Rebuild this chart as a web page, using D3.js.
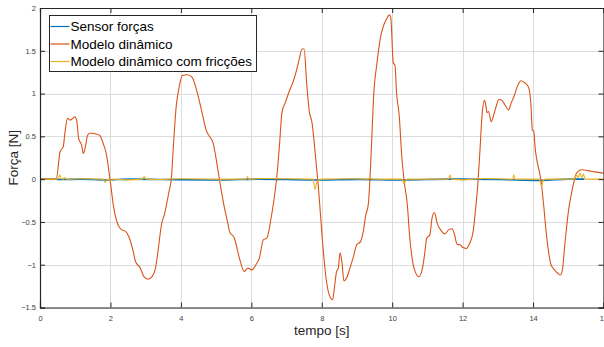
<!DOCTYPE html>
<html>
<head>
<meta charset="utf-8">
<script src="https://cdn.jsdelivr.net/npm/d3@7"></script>
<style>
  body { margin: 0; background: #fff; }
  svg { display: block; font-family: "Liberation Sans", Arial, sans-serif; }
</style>
</head>
<body>
<div id="vis"></div>
<script>
// series values
const seriesNames = ["Sensor forças", "Modelo dinâmico", "Modelo dinâmico com fricções"]
const seriesColors = ["#0072BD", "#D95319", "#EDB120"]

const sensorT = [0, 0.46, 0.55, 1.2, 1.85, 2.6, 3.4, 5.1, 6.2, 7.8, 9.0, 10.33, 11.6, 13.0, 14.24, 15.0, 15.45]
const sensorF = [0, 0, -0.005, 0, -0.01, 0, -0.004, -0.01, 0, -0.01, -0.003, -0.01, 0, -0.004, -0.015, 0, 0]

const modeloT = [0, 0.46, 0.57, 0.66, 0.71, 0.78, 0.85, 0.93, 0.99, 1.04, 1.10, 1.18, 1.23, 1.28, 1.35, 1.42, 1.56, 1.70, 1.80, 1.89,
  1.96, 2.01, 2.08, 2.17, 2.31, 2.43, 2.52, 2.65, 2.71, 2.85, 2.95, 3.07, 3.18, 3.28, 3.36, 3.45, 3.54, 3.66, 3.73, 3.80,
  3.87, 3.94, 4.04, 4.18, 4.32, 4.46, 4.60, 4.72, 4.81, 4.91, 5.00, 5.09, 5.22, 5.34, 5.38, 5.52, 5.66, 5.80, 5.90, 6.02,
  6.13, 6.23, 6.34, 6.44, 6.56, 6.65, 6.72, 6.80, 6.87, 6.97, 7.08, 7.18, 7.27, 7.36, 7.44, 7.50, 7.57, 7.65, 7.72, 7.82,
  7.90, 8.03, 8.12, 8.21, 8.31, 8.37, 8.42, 8.47, 8.52, 8.57, 8.63, 8.71, 8.80, 8.89, 8.99, 9.10, 9.18, 9.25, 9.32, 9.37,
  9.42, 9.48, 9.56, 9.66, 9.75, 9.84, 9.92, 9.96, 10.03, 10.08, 10.12, 10.20, 10.27, 10.33, 10.43, 10.50, 10.58, 10.62, 10.76, 10.85,
  10.92, 10.98, 11.07, 11.13, 11.20, 11.28, 11.37, 11.49, 11.61, 11.70, 11.77, 11.84, 11.94, 12.01, 12.11, 12.20, 12.30, 12.36, 12.43, 12.49,
  12.55, 12.62, 12.66, 12.69, 12.74, 12.81, 12.89, 12.96, 13.03, 13.12, 13.21, 13.31, 13.37, 13.47, 13.56, 13.66, 13.75, 13.85, 13.90, 13.94,
  13.98, 14.02, 14.06, 14.11, 14.18, 14.23, 14.30, 14.37, 14.44, 14.51, 14.61, 14.70, 14.78, 14.84, 14.90, 14.96, 15.03, 15.07, 15.15, 15.21,
  15.28, 15.37, 15.55, 15.74, 16.0]
const modeloF = [0, 0, 0.32, 0.38, 0.55, 0.71, 0.69, 0.71, 0.73, 0.69, 0.47, 0.40, 0.30, 0.36, 0.51, 0.54, 0.53, 0.51, 0.41, 0.28,
  0.085, -0.07, -0.30, -0.48, -0.59, -0.61, -0.67, -0.85, -0.96, -1.04, -1.14, -1.17, -1.14, -1.04, -0.81, -0.53, -0.40, -0.15, 0.01, 0.47,
  0.86, 1.05, 1.21, 1.22, 1.19, 1.02, 0.78, 0.57, 0.50, 0.43, 0.24, 0.01, -0.30, -0.53, -0.61, -0.69, -0.92, -1.08, -1.04, -1.06,
  -1.00, -0.92, -0.71, -0.69, -0.46, -0.22, 0.01, 0.40, 0.78, 0.90, 1.03, 1.13, 1.25, 1.40, 1.52, 1.52, 1.13, 0.78, 0.67, 0.28,
  -0.07, -0.77, -1.15, -1.35, -1.41, -1.23, -1.08, -1.04, -0.86, -0.96, -1.19, -1.15, -1.04, -0.92, -0.77, -0.73, -0.61, -0.42, -0.30, 0.01,
  0.47, 1.02, 1.33, 1.64, 1.79, 1.87, 1.92, 1.89, 1.36, 1.33, 1.03, 0.74, 0.28, 0.01, -0.30, -0.69, -0.96, -1.04, -1.14, -1.06,
  -0.88, -0.69, -0.65, -0.46, -0.39, -0.52, -0.59, -0.64, -0.59, -0.58, -0.65, -0.76, -0.77, -0.80, -0.81, -0.75, -0.61, -0.38, -0.07, 0.32,
  0.74, 0.92, 0.86, 0.78, 0.79, 0.67, 0.76, 0.86, 0.93, 0.92, 0.86, 0.81, 0.88, 0.98, 1.09, 1.15, 1.13, 1.09, 1.03, 0.86,
  0.57, 0.56, 0.36, 0.22, 0.085, -0.03, -0.30, -0.61, -0.85, -1.00, -1.06, -1.10, -1.12, -1.04, -0.77, -0.53, -0.30, -0.21, -0.05, 0.05,
  0.09, 0.11, 0.10, 0.085, 0.07]

const friccaoT = [0, 0.46, 0.52, 0.56, 0.60, 0.66, 0.70, 0.74, 1.2, 1.8, 1.85, 1.90, 1.95, 2.0, 2.05, 2.5, 2.9, 2.96, 3.02, 3.3,
  4.0, 5.05, 5.11, 5.15, 5.85, 5.89, 5.93, 6.4, 7.75, 7.81, 7.86, 7.92, 8.0, 8.8, 9.33, 9.37, 9.41, 10.28, 10.33, 10.38,
  10.42, 11.6, 11.64, 11.68, 12.0, 12.6, 13.42, 13.45, 13.49, 14.18, 14.24, 14.30, 14.36, 15.18, 15.23, 15.28, 15.33, 15.38, 15.43, 15.48,
  16.0]
const friccaoF = [0, 0, 0.01, 0.05, 0.01, 0, 0.02, 0, 0.005, 0, -0.04, -0.01, 0, -0.02, 0, -0.008, 0, 0.03, 0, -0.005,
  0.005, 0, -0.02, 0, 0, 0.03, 0, 0.008, 0, -0.12, -0.03, -0.01, 0, 0.005, 0, 0.02, 0, 0, -0.05, -0.02,
  0, 0, 0.05, 0, -0.008, 0.008, 0, 0.05, 0, 0, -0.08, -0.01, 0, 0, 0.05, 0.02, 0.07, 0.02, 0.06, 0,
  0]

const xTicks = [0, 2, 4, 6, 8, 10, 12, 14, 16]
const yTicks = [-1.5, -1, -0.5, 0, 0.5, 1, 1.5, 2]

const W = 604, H = 347
const margin = { left: 40, top: 8, right: 0.5, bottom: 39.5 }
const width = W - margin.left - margin.right
const height = H - margin.top - margin.bottom

const svg = d3.select("#vis").append("svg")
  .attr("width", W)
  .attr("height", H)

const g = svg.append("g")
  .attr("transform", "translate(" + margin.left + "," + margin.top + ")")

const x = d3.scaleLinear().domain([0, 16]).range([0, width])
const y = d3.scaleLinear().domain([-1.5, 2]).range([height, 0])

// grid
g.append("g").selectAll("line").data(xTicks).join("line")
  .attr("x1", d => Math.round(x(d)) + 0.5).attr("x2", d => Math.round(x(d)) + 0.5)
  .attr("y1", 0).attr("y2", height)
  .attr("stroke", "#dcdcdc").attr("stroke-width", 1)
g.append("g").selectAll("line").data(yTicks).join("line")
  .attr("y1", d => Math.round(y(d)) + 0.5).attr("y2", d => Math.round(y(d)) + 0.5)
  .attr("x1", 0).attr("x2", width)
  .attr("stroke", "#dcdcdc").attr("stroke-width", 1)

// lines
const series = [
  sensorT.map((t, i) => ({ t: t, f: sensorF[i] })),
  modeloT.map((t, i) => ({ t: t, f: modeloF[i] })),
  friccaoT.map((t, i) => ({ t: t, f: friccaoF[i] }))
]

const line = d3.line()
  .x(d => x(d.t))
  .y(d => y(d.f))
  .curve(d3.curveMonotoneX)

g.append("g").selectAll("path").data(series).join("path")
  .attr("d", line)
  .attr("fill", "none")
  .attr("stroke", (d, i) => seriesColors[i])
  .attr("stroke-width", (d, i) => i == 0 ? 1.6 : 1.1)

// axes, ticks inward on all four sides
const tickLen = 5
const xAxisB = d3.axisBottom(x).tickValues(xTicks).tickSize(-tickLen).tickPadding(8).tickFormat(d3.format("d"))
const xAxisT = d3.axisTop(x).tickValues(xTicks).tickSize(-tickLen).tickFormat("")
const yAxisL = d3.axisLeft(y).tickValues(yTicks).tickSize(-tickLen).tickPadding(4).tickFormat(d => d3.format("")(d))
const yAxisR = d3.axisRight(y).tickValues(yTicks).tickSize(-tickLen).tickFormat("")

function styleAxis(a) {
  a.select(".domain").attr("stroke", "#262626").attr("stroke-width", 1.2)
  a.selectAll(".tick line").attr("stroke", "#262626")
  a.selectAll("text").attr("fill", "#404040").style("font-size", "7.5px")
    .style("font-family", "'Liberation Sans', Arial, sans-serif")
}

styleAxis(g.append("g").attr("transform", "translate(0," + height + ")").call(xAxisB))
styleAxis(g.append("g").call(xAxisT))
styleAxis(g.append("g").call(yAxisL))
styleAxis(g.append("g").attr("transform", "translate(" + width + ",0)").call(yAxisR))

// axis titles
g.append("text")
  .attr("x", width / 2)
  .attr("y", height + 27)
  .attr("text-anchor", "middle")
  .attr("fill", "#262626")
  .style("font-size", "13.5px")
  .text("tempo [s]")

g.append("text")
  .attr("transform", "translate(" + (-22) + "," + (height / 2) + ") rotate(-90)")
  .attr("text-anchor", "middle")
  .attr("fill", "#262626")
  .style("font-size", "13.5px")
  .text("Força [N]")

// legend
const legend = svg.append("g").attr("transform", "translate(49.5,15.5)")
legend.append("rect")
  .attr("width", 207).attr("height", 56)
  .attr("fill", "#fff").attr("stroke", "#262626").attr("stroke-width", 1)

const items = legend.selectAll("g.item").data(seriesNames).join("g")
  .attr("class", "item")
  .attr("transform", (d, i) => "translate(0," + (11 + i * 17.5) + ")")
items.append("line")
  .attr("x1", 1).attr("x2", 20)
  .attr("stroke", (d, i) => seriesColors[i]).attr("stroke-width", 1.2)
items.append("text")
  .attr("x", 21)
  .attr("dy", "0.36em")
  .attr("fill", "#000")
  .style("font-size", "13.5px")
  .text(d => d)
</script>
</body>
</html>
